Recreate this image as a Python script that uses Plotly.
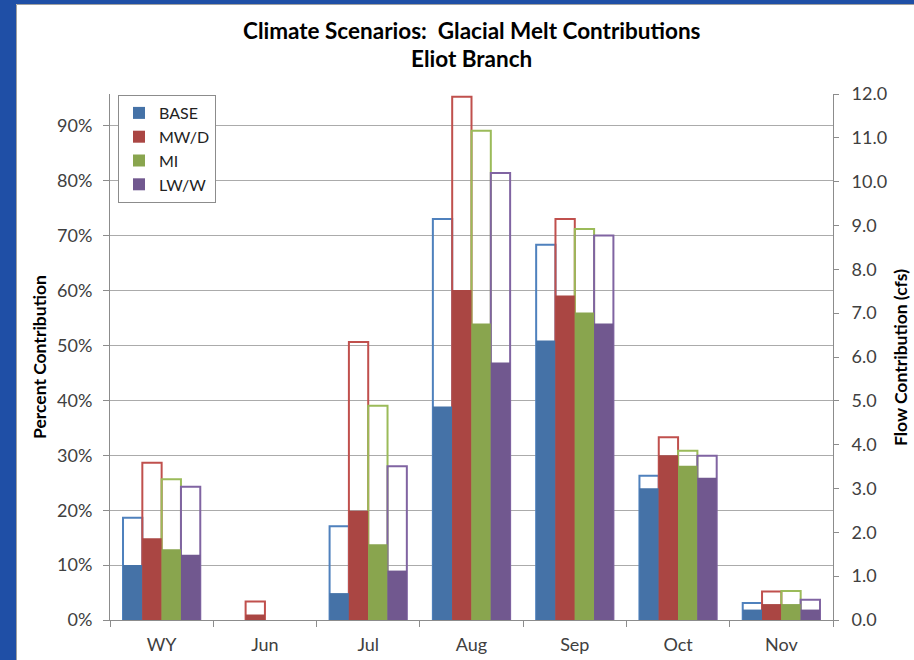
import plotly.graph_objects as go

# Categories and scenarios
categories = ["WY", "Jun", "Jul", "Aug", "Sep", "Oct", "Nov"]
scenarios = ["BASE", "MW/D", "MI", "LW/W"]

# Percent contribution of glacial melt (filled bars, left axis, %)
pct_base = [10.0, None, 4.9, 38.9, 50.9, 24.0, 1.9]
pct_mwd = [14.9, 1.0, 19.9, 60.1, 59.1, 30.0, 2.9]
pct_mi = [12.9, None, 13.8, 54.0, 56.0, 28.1, 2.9]
pct_lww = [11.9, None, 9.0, 46.9, 54.0, 25.9, 1.9]

# Flow contribution of glacial melt (outlined bars, right axis, cfs)
flow_base = [2.33, None, 2.14, 9.15, 8.56, 3.29, 0.39]
flow_mwd = [3.59, 0.42, 6.34, 11.94, 9.15, 4.17, 0.65]
flow_mi = [3.21, None, 4.89, 11.16, 8.92, 3.86, 0.66]
flow_lww = [3.04, None, 3.51, 10.20, 8.77, 3.75, 0.46]

pct_series = [pct_base, pct_mwd, pct_mi, pct_lww]
flow_series = [flow_base, flow_mwd, flow_mi, flow_lww]

fill_colors = ["#4572A7", "#AA4643", "#89A54E", "#71588F"]
edge_colors = ["#4F81BD", "#C0504D", "#9BBB59", "#8064A2"]

# Plot-area geometry (pixels)
W, H = 914, 660
L, R, T, B = 110, 833, 94, 620
PW, PH = R - L, B - T


def fx(p):
    return (p - L) / PW


def fy(p):
    return (B - p) / PH


FONT = "Lato, Carlito, Calibri, sans-serif"
TXT = "#404040"
AXIS = "#8C8C8C"
TICK_SIZE = 18

bar_w = 0.187
offsets = [-0.374, -0.187, 0.0, 0.187]

fig = go.Figure()

# Filled percent bars (drawn on the overlaying axis, so they sit on top)
for name, vals, col, off in zip(scenarios, pct_series, fill_colors, offsets):
    fig.add_trace(go.Bar(
        x=categories, y=vals, name=name, yaxis="y2",
        offset=off, width=bar_w,
        marker=dict(color=col, line=dict(width=0)),
    ))

# Outlined flow bars
for name, vals, col, off in zip(scenarios, flow_series, edge_colors, offsets):
    fig.add_trace(go.Bar(
        x=categories, y=vals, name=name + " flow", yaxis="y",
        offset=off, width=bar_w, showlegend=False,
        marker=dict(color="rgba(0,0,0,0)", line=dict(color=col, width=2)),
    ))

fig.update_layout(
    width=W, height=H,
    margin=dict(l=L, r=W - R, t=T, b=H - B, autoexpand=False),
    paper_bgcolor="white", plot_bgcolor="white",
    barmode="overlay",
    font=dict(family=FONT, size=TICK_SIZE, color=TXT),
    xaxis=dict(
        type="category", range=[-0.5, 6.5], automargin=False,
        showline=True, linecolor=AXIS, linewidth=1,
        ticks="outside", tickson="boundaries", ticklen=6, tickcolor=AXIS,
        tickfont=dict(size=TICK_SIZE, color=TXT), showgrid=False,
        ticklabelstandoff=8,
    ),
    yaxis=dict(
        side="right", range=[0, 12], dtick=1, tickformat=".1f",
        automargin=False,
        showline=True, linecolor=AXIS, linewidth=1,
        ticks="outside", ticklen=5, tickcolor=AXIS,
        showgrid=False, zeroline=False,
        tickfont=dict(size=TICK_SIZE, color=TXT),
        ticklabelstandoff=9,
    ),
    yaxis2=dict(
        overlaying="y", side="left", range=[0, 95.8], dtick=10,
        automargin=False,
        ticksuffix="%", showline=True, linecolor=AXIS, linewidth=1,
        ticks="outside", ticklen=6, tickcolor=AXIS,
        showgrid=True, gridcolor="#ABABAB", gridwidth=1, zeroline=False,
        tickfont=dict(size=TICK_SIZE, color=TXT),
        ticklabelstandoff=7,
    ),
    legend=dict(
        x=fx(118), y=fy(95), xanchor="left", yanchor="top",
        bgcolor="white", bordercolor=AXIS, borderwidth=1,
        font=dict(size=16, color="#222222"), itemwidth=30,
        tracegroupgap=0,
    ),
    showlegend=True,
)

# Titles
for line, ypx in (("Climate Scenarios:\u00a0 Glacial Melt Contributions", 30),
                  ("Eliot Branch", 59)):
    fig.add_annotation(
        text=line, xref="paper", yref="paper", x=fx(471.5), y=fy(ypx),
        xanchor="center", yanchor="middle", showarrow=False,
        font=dict(family=FONT, size=22.5, color="black", weight="bold"),
    )
fig.add_annotation(
    text="Percent Contribution", textangle=-90,
    xref="paper", yref="paper", x=fx(39), y=fy(357),
    xanchor="center", yanchor="middle", showarrow=False,
    font=dict(family=FONT, size=17.5, color="black", weight="bold"),
)
fig.add_annotation(
    text="Flow Contribution (cfs)", textangle=-90,
    xref="paper", yref="paper", x=fx(900), y=fy(357),
    xanchor="center", yanchor="middle", showarrow=False,
    font=dict(family=FONT, size=17.5, color="black", weight="bold"),
)

# Slide frame: blue band on the left and top edges with a thin grey border
frame_blue = "#1F4FA6"
fig.add_shape(type="rect", xref="paper", yref="paper",
              x0=fx(0), x1=fx(16), y0=fy(H), y1=fy(0),
              fillcolor=frame_blue, line=dict(width=0), layer="above")
fig.add_shape(type="rect", xref="paper", yref="paper",
              x0=fx(0), x1=fx(W), y0=fy(4), y1=fy(0),
              fillcolor=frame_blue, line=dict(width=0), layer="above")
fig.add_shape(type="line", xref="paper", yref="paper",
              x0=fx(16.5), x1=fx(16.5), y0=fy(H), y1=fy(4.5),
              line=dict(color="#A0A0A0", width=1), layer="above")
fig.add_shape(type="line", xref="paper", yref="paper",
              x0=fx(16.5), x1=fx(W), y0=fy(4.5), y1=fy(4.5),
              line=dict(color="#A0A0A0", width=1), layer="above")

fig.write_html("out.html")
